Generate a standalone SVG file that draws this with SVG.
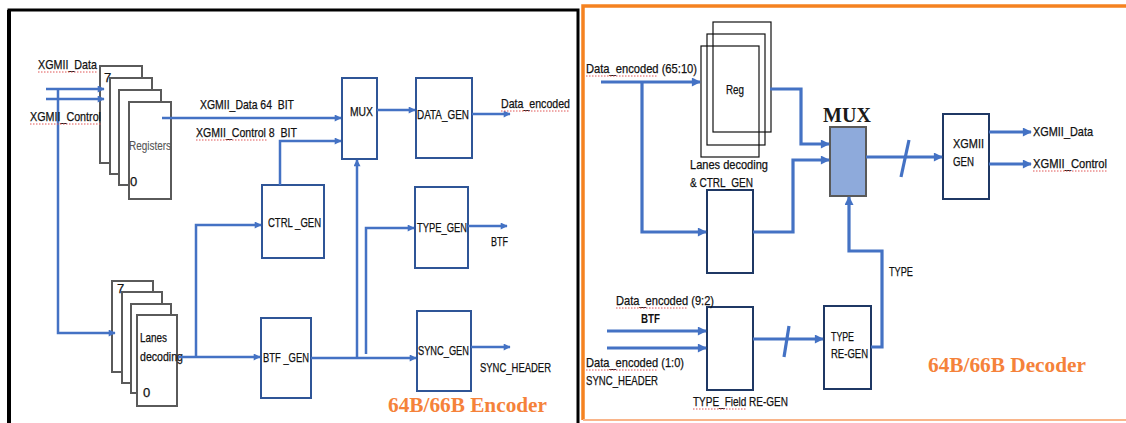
<svg xmlns="http://www.w3.org/2000/svg" width="1126" height="423" viewBox="0 0 1126 423">
<defs>
<marker id="ah" viewBox="0 0 10 10" refX="9" refY="5" markerWidth="8" markerHeight="7" markerUnits="userSpaceOnUse" orient="auto">
<path d="M0,0 L10,5 L0,10 z" fill="#4472c4"/>
</marker>
<marker id="ah2" viewBox="0 0 10 10" refX="9" refY="5" markerWidth="10" markerHeight="9" markerUnits="userSpaceOnUse" orient="auto">
<path d="M0,0 L10,5 L0,10 z" fill="#4472c4"/>
</marker>
<style>
.t{font-family:"Liberation Sans",Arial,sans-serif;font-size:13px;fill:#111;stroke:#111;stroke-width:0.25;white-space:pre}
.g{fill:#555;stroke:#555;stroke-width:0.1}
.c{text-anchor:middle}
.b{font-weight:bold;stroke-width:0}
.ttl{font-family:"Liberation Serif","Times New Roman",serif;font-weight:bold;font-size:20px;fill:#f5823a}
.mux{font-family:"Liberation Serif","Times New Roman",serif;font-weight:bold;font-size:20px;fill:#1a1a1a}
.reg{fill:#fff;stroke:#5a5a5a;stroke-width:2}
.blk{fill:#fff;stroke:#2f5597;stroke-width:2}
.blk2{fill:#fff;stroke:#1f3864;stroke-width:2}
.rg{fill:none;stroke:#111;stroke-width:1.2}
.w{fill:none;stroke:#4472c4;stroke-width:2.5}
.w2{fill:none;stroke:#4472c4;stroke-width:3.2}
.sp{fill:none;stroke:#e05555;stroke-width:1;stroke-dasharray:1.5 1.5}
</style>
</defs>
<rect width="1126" height="423" fill="#fff"/>

<g id="encoder-frame">
<path d="M9,430 V10 H578 V430" fill="none" stroke="#000" stroke-width="3"/>
<path d="M9,430 V10" fill="none" stroke="#000" stroke-width="4"/>
</g>
<g id="decoder-frame">
<path d="M583,420 V6 H1130" fill="none" stroke="#f58220" stroke-width="3.5"/>
<path d="M583,420 H1130" fill="none" stroke="#f9b58a" stroke-width="2"/>
</g>

<g id="registers">
<rect class="reg" x="100" y="66" width="42" height="97"/>
<rect class="reg" x="110" y="78" width="42" height="96"/>
<rect class="reg" x="119" y="90" width="42" height="95"/>
<rect class="reg" x="129" y="102" width="42" height="97"/>
<text class="t" x="104" y="82">7</text>
<text class="t g" x="129" y="150" textLength="42" lengthAdjust="spacingAndGlyphs">Registers</text>
<text class="t" x="130" y="186">0</text>
</g>
<g id="lanes-decoding">
<rect class="reg" x="112" y="281" width="41" height="91"/>
<rect class="reg" x="122" y="292" width="40" height="91"/>
<rect class="reg" x="131" y="304" width="40" height="89"/>
<rect class="reg" x="137" y="315" width="40" height="91"/>
<text class="t" x="117" y="293">7</text>
<text class="t" x="140" y="342" textLength="27" lengthAdjust="spacingAndGlyphs">Lanes</text>
<text class="t" x="140" y="361" textLength="43" lengthAdjust="spacingAndGlyphs">decoding</text>
<text class="t" x="143" y="397">0</text>
</g>
<g id="enc-mux">
<rect class="blk" x="342" y="78" width="35" height="81"/>
<text class="t" x="350" y="116" textLength="23" lengthAdjust="spacingAndGlyphs">MUX</text>
</g>
<g id="data-gen">
<rect class="blk" x="416" y="78" width="56" height="80"/>
<text class="t" x="417" y="119" textLength="52" lengthAdjust="spacingAndGlyphs">DATA_GEN</text>
</g>
<g id="ctrl-gen">
<rect class="blk" x="262" y="185" width="62" height="73"/>
<text class="t" x="268" y="227" textLength="53" lengthAdjust="spacingAndGlyphs">CTRL _GEN</text>
</g>
<g id="btf-gen">
<rect class="blk" x="261" y="318" width="50" height="80"/>
<text class="t" x="263" y="362" textLength="46" lengthAdjust="spacingAndGlyphs">BTF _GEN</text>
</g>
<g id="type-gen">
<rect class="blk" x="415" y="187" width="53" height="81"/>
<text class="t" x="417" y="232" textLength="50" lengthAdjust="spacingAndGlyphs">TYPE_GEN</text>
</g>
<g id="sync-gen">
<rect class="blk" x="417" y="311" width="54" height="80"/>
<text class="t" x="418" y="355" textLength="51" lengthAdjust="spacingAndGlyphs">SYNC_GEN</text>
</g>

<g id="reg">
<rect class="rg" x="713" y="22" width="58" height="110"/>
<rect class="rg" x="707" y="34" width="58" height="111"/>
<rect class="rg" x="701" y="46" width="58" height="111"/>
<text class="t" x="726" y="94" textLength="18" lengthAdjust="spacingAndGlyphs">Reg</text>
</g>
<g id="lanes-ctrl">
<rect class="blk2" x="707" y="190" width="46" height="83"/>
<text class="t" x="690" y="169" textLength="78" lengthAdjust="spacingAndGlyphs">Lanes decoding</text>
<text class="t" x="690" y="187" textLength="63" lengthAdjust="spacingAndGlyphs">&amp; CTRL_GEN</text>
</g>
<g id="dec-mux">
<rect x="830" y="127" width="36" height="69" fill="#8eaadb" stroke="#595959" stroke-width="2"/>
<text class="mux c" x="847" y="122">MUX</text>
</g>
<g id="xgmii-gen">
<rect class="blk2" x="943" y="114" width="46" height="85"/>
<text class="t" x="953" y="148" textLength="31" lengthAdjust="spacingAndGlyphs">XGMII</text>
<text class="t" x="953" y="166" textLength="21" lengthAdjust="spacingAndGlyphs">GEN</text>
</g>
<g id="type-field-regen">
<rect class="blk2" x="707" y="307" width="46" height="83"/>
<text class="t" x="693" y="406" textLength="95" lengthAdjust="spacingAndGlyphs">TYPE_Field RE-GEN</text>
</g>
<g id="type-regen">
<rect class="blk2" x="824" y="306" width="47" height="83"/>
<text class="t" x="831" y="341" textLength="23" lengthAdjust="spacingAndGlyphs">TYPE</text>
<text class="t" x="831" y="358" textLength="37" lengthAdjust="spacingAndGlyphs">RE-GEN</text>
</g>

<g id="connectors">
<path class="w" d="M46,89 H104" marker-end="url(#ah)"/>
<path class="w" d="M46,99 H104" marker-end="url(#ah)"/>
<path class="w" d="M58,89 V333 H115" marker-end="url(#ah)"/>
<path class="w" d="M162,118 H341" marker-end="url(#ah)"/>
<path class="w" d="M280,185 V141 H341" marker-end="url(#ah)"/>
<path class="w" d="M377,110 H415" marker-end="url(#ah)"/>
<path class="w" d="M472,114 H510" marker-end="url(#ah)"/>
<path class="w" d="M178,357 H260" marker-end="url(#ah)"/>
<path class="w" d="M196,357 V225 H261" marker-end="url(#ah)"/>
<path class="w" d="M311,358 H416" marker-end="url(#ah)"/>
<path class="w" d="M357,358 V160" marker-end="url(#ah)"/>
<path class="w" d="M366,354 V228 H414" marker-end="url(#ah)"/>
<path class="w" d="M468,226 H507" marker-end="url(#ah)"/>
<path class="w" d="M471,347 H510" marker-end="url(#ah)"/>

<path class="w2" d="M601,82 H700" marker-end="url(#ah2)"/>
<path class="w2" d="M642,82 V232 H706" marker-end="url(#ah2)"/>
<path class="w2" d="M770,89 H801 V144 H829" marker-end="url(#ah2)"/>
<path class="w2" d="M753,232 H793 V160 H829" marker-end="url(#ah2)"/>
<path class="w2" d="M866,157 H942" marker-end="url(#ah2)"/>
<path class="w2" d="M901,177 L909,140"/>
<path class="w2" d="M989,132 H1031" marker-end="url(#ah2)"/>
<path class="w2" d="M989,164 H1031" marker-end="url(#ah2)"/>
<path class="w2" d="M871,347 H882 V251 H849 V197" marker-end="url(#ah2)"/>
<path class="w2" d="M607,331 H706" marker-end="url(#ah2)"/>
<path class="w2" d="M607,348 H706" marker-end="url(#ah2)"/>
<path class="w2" d="M753,339 H823" marker-end="url(#ah2)"/>
<path class="w2" d="M784,357 L789,326"/>
</g>

<g id="labels">
<text class="t" x="38" y="69" textLength="59" lengthAdjust="spacingAndGlyphs">XGMII_Data</text>
<text class="t" x="30" y="121" textLength="71" lengthAdjust="spacingAndGlyphs">XGMII_Control</text>
<text class="t" x="200" y="109" textLength="94" lengthAdjust="spacingAndGlyphs">XGMII_Data 64  BIT</text>
<text class="t" x="196" y="137" textLength="101" lengthAdjust="spacingAndGlyphs">XGMII_Control 8  BIT</text>
<text class="t" x="501" y="108" textLength="69" lengthAdjust="spacingAndGlyphs">Data_encoded</text>
<text class="t" x="491" y="246" textLength="17" lengthAdjust="spacingAndGlyphs">BTF</text>
<text class="t" x="480" y="372" textLength="71" lengthAdjust="spacingAndGlyphs">SYNC_HEADER</text>
<text class="ttl" x="388" y="412" textLength="159" lengthAdjust="spacingAndGlyphs">64B/66B Encoder</text>

<text class="t" x="586" y="73" textLength="111" lengthAdjust="spacingAndGlyphs">Data_encoded (65:10)</text>
<text class="t" x="1033" y="136" textLength="60" lengthAdjust="spacingAndGlyphs">XGMII_Data</text>
<text class="t" x="1033" y="168" textLength="74" lengthAdjust="spacingAndGlyphs">XGMII_Control</text>
<text class="t" x="889" y="276" textLength="24" lengthAdjust="spacingAndGlyphs">TYPE</text>
<text class="t" x="616" y="305" textLength="98" lengthAdjust="spacingAndGlyphs">Data_encoded (9:2)</text>
<text class="t b" x="641" y="323" textLength="19" lengthAdjust="spacingAndGlyphs">BTF</text>
<text class="t" x="586" y="367" textLength="98" lengthAdjust="spacingAndGlyphs">Data_encoded (1:0)</text>
<text class="t" x="586" y="385" textLength="72" lengthAdjust="spacingAndGlyphs">SYNC_HEADER</text>
<text class="ttl" x="928" y="372" textLength="158" lengthAdjust="spacingAndGlyphs">64B/66B Decoder</text>
</g>

<g id="spell-marks">
<path class="sp" d="M38,72 H97"/>
<path class="sp" d="M30,124 H101"/>
<path class="sp" d="M196,140 H268"/>
<path class="sp" d="M501,111 H570"/>
<path class="sp" d="M586,76 H658"/>
<path class="sp" d="M616,308 H688"/>
<path class="sp" d="M586,370 H658"/>
<path class="sp" d="M693,409 H747"/>
<path class="sp" d="M1033,171 H1107"/>
</g>
</svg>
